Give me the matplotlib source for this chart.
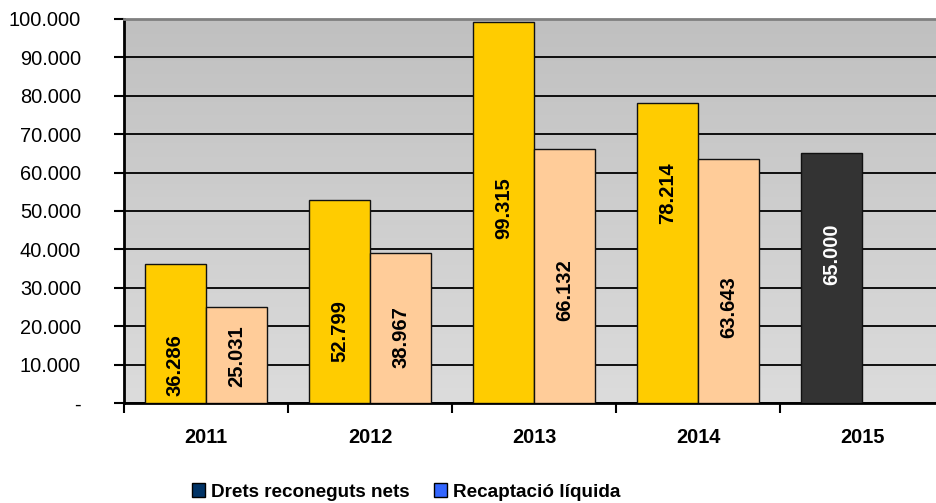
import numpy as np
import matplotlib.pyplot as plt
from matplotlib.patches import Patch
from matplotlib.colors import LinearSegmentedColormap

plt.rcParams['font.family'] = ['Liberation Sans', 'DejaVu Sans']

years = ['2011', '2012', '2013', '2014', '2015']
drets = [36286, 52799, 99315, 78214, 65000]
recaptacio = [25031, 38967, 66132, 63643]
drets_colors = ['#FFCC00', '#FFCC00', '#FFCC00', '#FFCC00', '#333333']
recap_color = '#FFCC99'
# where the value labels sit (Excel labels were moved by hand)
drets_label_y = [9900, 18800, 50800, 54700, 38800]
recap_label_y = [12200, 17100, 29400, 25000]


def fmt(v):
    if v == 0:
        return '-'
    return '{:,.0f}'.format(v).replace(',', '.')


fig = plt.figure(figsize=(9.36, 5.03), dpi=100)
ax = fig.add_axes([124 / 936, 100 / 503, 820 / 936, 384 / 503])

# gradient background of the plot area
grad = np.linspace(0, 1, 256).reshape(-1, 1)
bg = LinearSegmentedColormap.from_list('bg', ['#DCDCDC', '#C0C0C0'])
ax.imshow(grad, extent=[-0.5, 4.5, 0, 100000], aspect='auto', cmap=bg, origin='lower', zorder=0)

x = np.arange(len(years))
w = 0.372
ax.bar(x - w / 2, drets, width=w, color=drets_colors, edgecolor='#111111', linewidth=1, zorder=3)
ax.bar(x[:4] + w / 2, recaptacio, width=w, color=recap_color, edgecolor='#111111', linewidth=1, zorder=3)

for i, v in enumerate(drets):
    c = 'white' if i == 4 else 'black'
    ax.text(x[i] - w / 2, drets_label_y[i], fmt(v), rotation=90, ha='center', va='center',
            fontsize=14.5, fontweight='bold', color=c, zorder=4)
for i, v in enumerate(recaptacio):
    ax.text(x[i] + w / 2, recap_label_y[i], fmt(v), rotation=90, ha='center', va='center',
            fontsize=14.5, fontweight='bold', color='black', zorder=4)

ax.set_xlim(-0.5, 4.5)
ax.set_ylim(0, 100000)
yt = np.arange(0, 100001, 10000)
ax.set_yticks(yt)
ax.set_yticklabels([fmt(v) for v in yt], fontsize=14.4)
ax.yaxis.grid(True, color='black', linewidth=1.3, zorder=1)
ax.set_axisbelow(True)
ax.tick_params(axis='y', length=7, width=1.5, pad=24, direction='out')

ax.set_xticks(np.arange(-0.5, 4.6, 1))
ax.set_xticklabels([])
ax.set_xticks(x, minor=True)
ax.set_xticklabels(years, minor=True, fontsize=14.4, fontweight='bold')
ax.tick_params(axis='x', which='major', length=7, width=1.5, direction='out')
ax.tick_params(axis='x', which='minor', length=0, pad=18)

for s in ['left', 'bottom']:
    ax.spines[s].set_linewidth(2)
    ax.spines[s].set_color('black')
ax.spines['top'].set_color('#808080')
ax.spines['top'].set_linewidth(2)
ax.spines['right'].set_visible(False)

handles = [Patch(facecolor='#003366', edgecolor='black', label='Drets reconeguts nets'),
           Patch(facecolor='#3366FF', edgecolor='black', label='Recaptació líquida')]
fig.legend(handles=handles, loc='center', bbox_to_anchor=(406 / 936, 1 - 492 / 503), ncol=2,
           frameon=False, prop={'size': 13.6, 'weight': 'bold'}, handlelength=0.7, handleheight=0.7,
           handletextpad=0.3, columnspacing=1.3)

fig.savefig('out.png', dpi=100)
